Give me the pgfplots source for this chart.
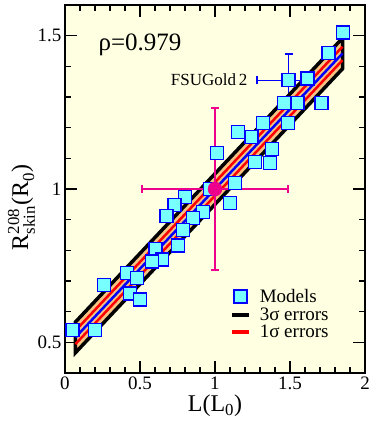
\documentclass[border=0pt]{standalone}
\usepackage{fontspec}
\setmainfont{Liberation Serif}
\usepackage{amsmath}
\usepackage{pgfplots}
\pgfplotsset{compat=1.18}
\definecolor{bgy}{RGB}{255,255,226}
\definecolor{sqfill}{RGB}{120,255,255}
\definecolor{bandtan}{RGB}{245,195,130}
\begin{document}
\begin{tikzpicture}
\begin{axis}[name=ax, scale only axis, width=300pt, height=368pt,
  xmin=0, xmax=2, ymin=0.4, ymax=1.6,
  xtick={0,0.5,1,1.5,2}, ytick={0.5,1,1.5},
  minor x tick num=4, minor y tick num=4,
  tick align=inside, major tick length=12pt, minor tick length=6pt,
  every tick/.style={black, line width=1.2pt},
  axis line style={line width=1.5pt},
  tick label style={font=\fontsize{19}{20}\selectfont},
  /pgf/number format/assume math mode=true,
  axis background/.style={fill=bgy},
  xlabel={L(L\textsubscript{0})},
  ylabel={$\text{R}^{\text{208}}_{\text{skin}}\text{(R}_{\text{0}}\text{)}$},
  label style={font=\fontsize{24}{26}\selectfont},
  xlabel style={at={(axis description cs:0.5,-0.09)}, anchor=center},
  ylabel style={at={(axis description cs:-0.145,0.45)}, anchor=center},
  legend style={at={(axis cs:1.10,0.675)}, anchor=north west, draw=none, fill=none,
    font=\fontsize{19}{19}\selectfont, row sep=2.5pt, inner sep=0pt,
    nodes={inner sep=0.5pt},
    /tikz/every odd column/.append style={column sep=8pt}},
  legend cell align=left,
]
\addplot[only marks, mark=square*, mark size=6.5pt,
  mark options={fill=sqfill, draw=blue, line width=1.6pt}] coordinates {
(1.853,1.511) (1.755,1.443) (1.615,1.36) (1.71,1.28) (1.55,1.28) (1.46,1.28)
(1.153,1.186) (1.245,1.17) (1.32,1.215) (1.487,1.215) (1.38,1.13) (1.267,1.088)
(1.367,1.085) (1.013,1.117) (1.133,1.02) (1.10,0.954) (0.80,0.974) (0.73,0.948)
(0.675,0.912) (0.967,1.0) (0.92,0.925) (0.853,0.905) (0.787,0.866) (0.753,0.815)
(0.605,0.805) (0.647,0.77) (0.58,0.763) (0.413,0.726) (0.48,0.71) (0.26,0.687)
(0.433,0.66) (0.50,0.64) (0.05,0.54) (0.2,0.54)
};
\addlegendentry{Models}
\addplot[forget plot, only marks, mark=square*, mark size=6.5pt,
  mark options={fill=sqfill, draw=blue, line width=1.6pt},
  error bars/.cd, x dir=both, x explicit, y dir=both, y explicit,
  error bar style={blue, line width=1.2pt},
  error mark options={blue, rotate=90, mark size=4pt, line width=1.2pt}]
  coordinates {(1.49,1.355) +- (0.21,0.085)};
\addplot[forget plot, fill=bandtan, draw=black, line width=3.5pt, line join=miter]
  coordinates {(0.07,0.5664) (1.85,1.492) (1.85,1.392) (0.07,0.4664)} -- cycle;
\addplot[forget plot, red, line width=2.5pt] coordinates {(0.07,0.5384) (1.85,1.464)};
\addplot[forget plot, red, line width=2.5pt] coordinates {(0.07,0.4944) (1.85,1.420)};
\addplot[forget plot, blue, line width=2.5pt] coordinates {(0.07,0.5164) (1.85,1.442)};
\addplot[forget plot, only marks, mark=*, mark size=7pt, magenta,
  error bars/.cd, x dir=both, x explicit, y dir=both, y explicit,
  error bar style={magenta, line width=1.5pt},
  error mark options={magenta, rotate=90, mark size=4pt, line width=1.5pt}]
  coordinates {(1,1) +- (0.485,0.264)};
\addlegendimage{black, line width=4pt}
\addlegendentry{3σ errors}
\addlegendimage{red, line width=4pt}
\addlegendentry{1σ errors}
\node[anchor=west, font=\fontsize{25}{26}\selectfont] at (axis cs:0.2,1.47) {ρ=0.979};
\node[anchor=east, font=\fontsize{17}{18}\selectfont] at (axis cs:1.24,1.355) {FSUGold\,2};
\end{axis}
\pgfresetboundingbox
\path ([xshift=-65pt,yshift=-51pt]ax.south west) rectangle ([xshift=9pt,yshift=5pt]ax.north east);
\end{tikzpicture}
\end{document}
